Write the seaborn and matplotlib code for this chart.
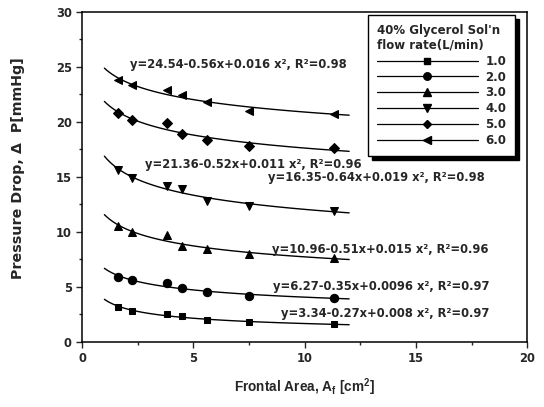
import numpy as np
import pandas as pd
import matplotlib
matplotlib.use("Agg")
import matplotlib.pyplot as plt
from matplotlib.lines import Line2D
from matplotlib.ticker import MultipleLocator
import seaborn as sns

sns.set_theme(style="ticks")
plt.rcParams['font.family'] = ['DejaVu Sans']
plt.rcParams['font.weight'] = 'bold'
plt.rcParams['mathtext.fontset'] = 'custom'
plt.rcParams['mathtext.rm'] = 'Liberation Sans:bold'
plt.rcParams['mathtext.it'] = 'Liberation Sans:bold'
plt.rcParams['mathtext.bf'] = 'Liberation Sans:bold'

area = [1.6, 2.25, 3.8, 4.5, 5.6, 7.5, 11.3]
flow_labels = ["1.0", "2.0", "3.0", "4.0", "5.0", "6.0"]
markers = ["s", "o", "^", "v", "D", "<"]
dp_1 = [3.2, 2.8, 2.5, 2.3, 2.0, 1.75, 1.6]
dp_2 = [5.9, 5.6, 5.3, 4.85, 4.5, 4.15, 4.0]
dp_3 = [10.5, 10.0, 9.7, 8.7, 8.4, 8.0, 7.6]
dp_4 = [15.6, 14.9, 14.2, 13.9, 12.8, 12.3, 11.9]
dp_5 = [20.8, 20.2, 19.9, 18.9, 18.3, 17.8, 17.6]
dp_6 = [23.8, 23.3, 22.9, 22.4, 21.8, 21.0, 20.7]
series = [dp_1, dp_2, dp_3, dp_4, dp_5, dp_6]

eq_texts = [
    "y=3.34-0.27x+0.008 x², R²=0.97",
    "y=6.27-0.35x+0.0096 x², R²=0.97",
    "y=10.96-0.51x+0.015 x², R²=0.96",
    "y=16.35-0.64x+0.019 x², R²=0.98",
    "y=21.36-0.52x+0.011 x², R²=0.96",
    "y=24.54-0.56x+0.016 x², R²=0.98",
]
eq_pos = [(8.94, 2.6), (8.6, 5.0), (8.52, 8.4), (8.36, 14.9), (2.83, 16.1), (2.16, 25.2)]

fig = plt.figure(figsize=(5.44, 4.07), dpi=100)
ax = fig.add_axes([0.151, 0.1604, 0.818, 0.8108])

marker_sizes = {"s": 5.0, "D": 5.0, "o": 6.0, "^": 6.3, "v": 6.3, "<": 6.3}

fit_x = np.linspace(1, 12, 100)
handles = []
for lab, mk, ys in zip(flow_labels, markers, series):
    df = pd.DataFrame({"x": area, "y": ys})
    ms = marker_sizes[mk]
    sns.lineplot(data=df, x="x", y="y", ax=ax, marker=mk, linestyle="none",
                 color="black", markersize=ms, markeredgecolor="black")
    p, lc = np.polyfit(np.log(area), np.log(ys), 1)
    fdf = pd.DataFrame({"x": fit_x, "y": np.exp(lc) * fit_x ** p})
    sns.lineplot(data=fdf, x="x", y="y", ax=ax, color="black", linewidth=1.0)
    handles.append(Line2D([0], [0], color="black", linewidth=0.9, marker=mk,
                          markersize=ms * 0.9, label=lab))

for t, (tx, ty) in zip(eq_texts, eq_pos):
    ax.text(tx, ty, t, fontsize=8.3, fontweight="bold", va="center", ha="left",
            family="DejaVu Sans")

ax.set_xlim(0, 20)
ax.set_ylim(0, 30)
ax.xaxis.set_major_locator(MultipleLocator(5))
ax.xaxis.set_minor_locator(MultipleLocator(2.5))
ax.yaxis.set_major_locator(MultipleLocator(5))
ax.yaxis.set_minor_locator(MultipleLocator(2.5))
ax.tick_params(which="major", direction="out", length=4, width=1, labelsize=8.3)
ax.tick_params(which="minor", direction="out", length=2, width=1)
for lbl in ax.get_xticklabels() + ax.get_yticklabels():
    lbl.set_fontweight("bold")
for s in ax.spines.values():
    s.set_linewidth(1.1)
    s.set_color("black")
    s.set_visible(True)

ax.set_xlabel("Frontal Area, A$_f$ [cm$^2$]", fontsize=9.8, fontweight="bold",
              family="Liberation Sans")
ax.xaxis.set_label_coords(0.5, -0.105)
ax.set_ylabel("Pressure Drop, Δ  P[mmHg]", fontsize=10.3, fontweight="bold",
              family="DejaVu Sans")
ax.yaxis.set_label_coords(-0.128, 0.525)

leg = ax.legend(handles=handles, title="40% Glycerol Sol'n\nflow rate(L/min)",
                loc="upper right", bbox_to_anchor=(0.973, 0.99), fontsize=8.5,
                title_fontsize=8.5, handlelength=8.6, handletextpad=0.6,
                labelspacing=0.24, borderpad=0.75, borderaxespad=0.0,
                frameon=True, fancybox=False,
                shadow={"facecolor": "black", "edgecolor": "black", "alpha": 1, "ox": 3, "oy": -3},
                alignment="left")
leg.get_frame().set_edgecolor("black")
leg.get_frame().set_linewidth(1.0)
leg.get_title().set_fontweight("bold")
for t in leg.get_texts():
    t.set_fontweight("bold")

fig.savefig("out.png", dpi=100)
